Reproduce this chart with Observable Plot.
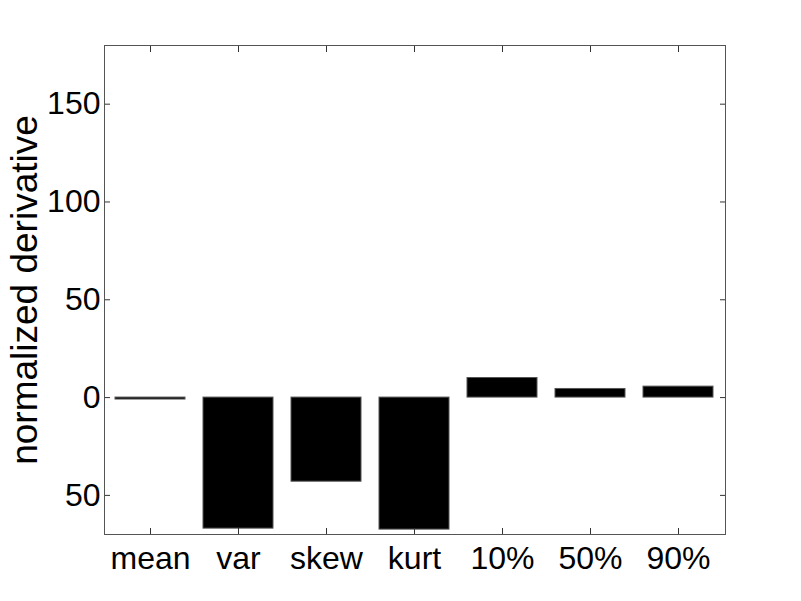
<!DOCTYPE html>
<html>
<head>
<meta charset="utf-8">
<script src="https://cdn.jsdelivr.net/npm/d3@7"></script>
<script src="https://cdn.jsdelivr.net/npm/@observablehq/plot@0.6"></script>
<style>
  html, body { margin: 0; padding: 0; background: #fff; }
</style>
</head>
<body>
<div id="chart"></div>
<script>
const categories = ["mean", "var", "skew", "kurt", "10%", "50%", "90%"];
const values = [-1, -67, -43, -67.5, 10, 4.4, 5.6];
const yTicks = [-50, 0, 50, 100, 150];
const yLabel = "normalized derivative";

const data = categories.map((c, i) => ({cat: c, value: values[i]}));
const font = "'Liberation Sans', Arial, Helvetica, sans-serif";

const chart = Plot.plot({
  width: 801,
  height: 601,
  marginLeft: 104,
  marginRight: 76,
  marginTop: 45,
  marginBottom: 67,
  style: {fontFamily: font, fontSize: "32px", color: "black", background: "white"},
  x: {domain: categories, paddingInner: 0.2, paddingOuter: 0.1, label: null},
  y: {domain: [-70, 180], label: null},
  marks: [
    Plot.barY(data, {x: "cat", y: "value", fill: "black", stroke: "#555", strokeWidth: 1}),
    // inward ticks on all four sides
    Plot.axisX({anchor: "bottom", tickSize: 6, dy: -6, fill: "none", stroke: "#333", label: null}),
    Plot.axisX({anchor: "top", tickSize: 6, dy: 6, fill: "none", stroke: "#333", label: null}),
    Plot.axisY(yTicks, {anchor: "left", tickSize: 6, dx: 6, fill: "none", stroke: "#333", label: null}),
    Plot.axisY(yTicks, {anchor: "right", tickSize: 6, dx: -6, fill: "none", stroke: "#333", label: null}),
    // tick labels
    Plot.axisX({anchor: "bottom", tickSize: 0, tickPadding: 12, fontSize: 32, fill: "black", label: null}),
    Plot.axisY(yTicks, {anchor: "left", tickSize: 0, tickPadding: 4, fontSize: 32, fill: "black",
      tickFormat: d => String(Math.abs(d)), label: null}),
    Plot.frame({stroke: "#555", strokeWidth: 1}),
    Plot.text([yLabel], {frameAnchor: "left", textAnchor: "middle", dx: -79, rotate: -90,
      fontSize: 37, fill: "black", text: d => d})
  ]
});
document.getElementById("chart").appendChild(chart);
</script>
</body>
</html>
